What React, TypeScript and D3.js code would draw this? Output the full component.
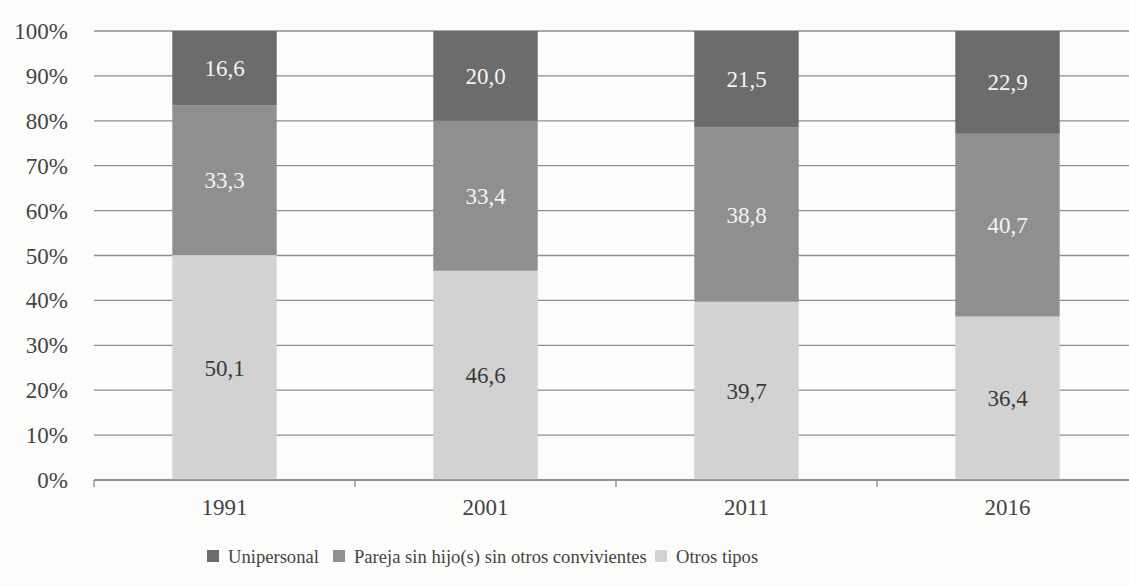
import React from 'react';
import * as d3 from 'd3';

const years = ['1991', '2001', '2011', '2016'];
const unipersonal = [16.6, 20.0, 21.5, 22.9];
const pareja = [33.3, 33.4, 38.8, 40.7];
const otros = [50.1, 46.6, 39.7, 36.4];
const seriesNames = ['Unipersonal', 'Pareja sin hijo(s) sin otros convivientes', 'Otros tipos'];
const yTicks = [0, 10, 20, 30, 40, 50, 60, 70, 80, 90, 100];

const W = 1129;
const H = 586;
const FONT = "'Liberation Serif', 'Times New Roman', serif";
const colors = ['#6c6c6c', '#8f8f8f', '#d2d2d2'];
const labelColors = ['#f4f4f4', '#f4f4f4', '#3a3a3a'];

export default function App() {
    const x = d3.scaleBand<string>().domain(years).range([94, 1138]).paddingInner(0.6).paddingOuter(0.3);
    const y = d3.scaleLinear().domain([0, 100]).range([480, 31]);

    // stack from bottom: otros, pareja, unipersonal
    const rows = years.map((yr, i) => ({ year: yr, otros: otros[i], pareja: pareja[i], unipersonal: unipersonal[i] }));
    const keys = ['otros', 'pareja', 'unipersonal'];
    const stacked = d3.stack<any>().keys(keys)(rows);
    const colorOf: Record<string, string> = { unipersonal: colors[0], pareja: colors[1], otros: colors[2] };
    const textOf: Record<string, string> = { unipersonal: labelColors[0], pareja: labelColors[1], otros: labelColors[2] };

    const step = x.step();
    const gap = step - x.bandwidth();
    const boundaries = [...years.map((d) => (x(d) as number) - gap / 2), (x(years[years.length - 1]) as number) + x.bandwidth() + gap / 2];

    const fmt = (v: number) => v.toFixed(1).replace('.', ',');

    const legendX = [207, 333, 655];
    const txt = { fontFamily: FONT };

    return (
        <div style={{ position: 'absolute', left: 0, top: 0 }}>
            <svg width={W} height={H} style={{ display: 'block', background: '#fcfcfb', fontFamily: FONT }}>
                {/* gridlines */}
                {yTicks.map((t) => (
                    <line key={t} x1={94} x2={W} y1={y(t)} y2={y(t)} stroke="#8e8e8e" strokeWidth={1.3} />
                ))}
                {/* y labels */}
                {yTicks.map((t) => (
                    <text key={'l' + t} style={txt} x={68} y={y(t)} dy="0.35em" textAnchor="end" fontSize={23} fill="#444">
                        {t}%
                    </text>
                ))}
                {/* bars */}
                {stacked.map((s) => (
                    <g key={s.key}>
                        {s.map((d, i) => (
                            <rect
                                key={i}
                                x={x(years[i])}
                                width={x.bandwidth()}
                                y={y(d[1])}
                                height={y(d[0]) - y(d[1])}
                                fill={colorOf[s.key]}
                            />
                        ))}
                        {s.map((d, i) => (
                            <text
                                key={'t' + i}
                                style={txt}
                                x={(x(years[i]) as number) + x.bandwidth() / 2}
                                y={(y(d[0]) + y(d[1])) / 2}
                                dy="0.35em"
                                textAnchor="middle"
                                fontSize={23}
                                fill={textOf[s.key]}
                            >
                                {fmt(d[1] - d[0])}
                            </text>
                        ))}
                    </g>
                ))}
                {/* x axis */}
                <line x1={94} x2={W} y1={y(0)} y2={y(0)} stroke="#8a8a8a" strokeWidth={1.5} />
                {boundaries.map((b, i) => (
                    <line key={'b' + i} x1={b} x2={b} y1={y(0)} y2={y(0) + 7} stroke="#8a8a8a" strokeWidth={1.3} />
                ))}
                {years.map((yr) => (
                    <text key={yr} style={txt} x={(x(yr) as number) + x.bandwidth() / 2} y={515} textAnchor="middle" fontSize={23} fill="#444">
                        {yr}
                    </text>
                ))}
                {/* legend */}
                {seriesNames.map((n, i) => (
                    <g key={n} transform={`translate(${legendX[i]},556)`}>
                        <rect x={0} y={-6} width={12} height={12} fill={colors[i]} />
                        <text x={21} y={0} style={txt} dy="0.35em" fontSize={18.6} fill="#444">
                            {n}
                        </text>
                    </g>
                ))}
            </svg>
        </div>
    );
}
